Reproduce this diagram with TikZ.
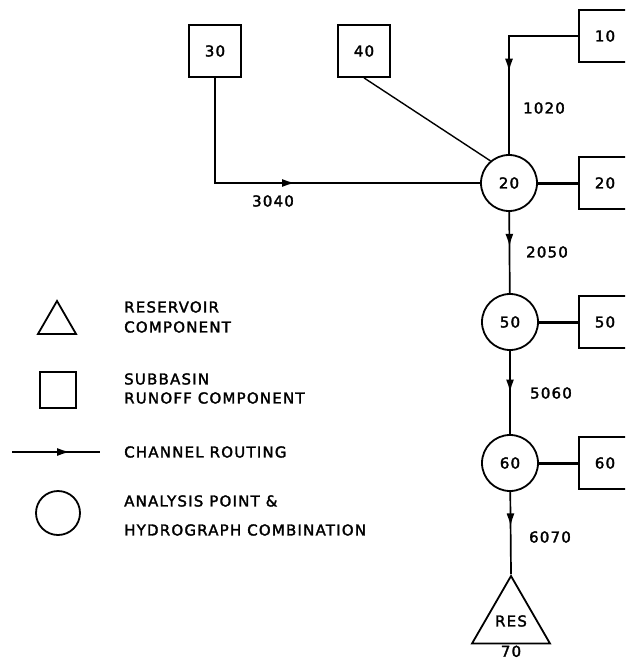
\documentclass[tikz,border=0pt]{standalone}
\usepackage{fontspec}
\setmainfont[LetterSpace=8,FakeBold=2]{DejaVu Sans}
\usetikzlibrary{arrows.meta,decorations.markings,shapes.geometric}

\tikzset{
  sub/.style={draw,line width=1.8pt,minimum size=52pt,inner sep=0pt},
  cpt/.style={draw,circle,line width=1.8pt,minimum size=56pt,inner sep=0pt},
  res/.style={draw,regular polygon,regular polygon sides=3,line width=1.8pt,inner sep=0pt},
  link/.style={line width=3pt},
  channel/.style={line width=1.7pt,postaction={decorate},
    decoration={markings,mark=at position #1 with {\arrow{Latex[length=13pt,width=8pt]}}}},
  txt/.style={inner sep=0pt,anchor=west}
}

\begin{document}
\begin{tikzpicture}[x=1pt,y=-1pt,font=\fontsize{15}{17}\selectfont]
  \useasboundingbox (0,0) rectangle (625,663);
  \clip (0,0) rectangle (625,663);
  % subbasins
  \node[sub] (s30) at (215,51) {30};
  \node[sub] (s40) at (364,51) {40};
  \node[sub] (s10) at (605,36) {10};
  \node[sub] (s20) at (605,183) {20};
  \node[sub] (s50) at (605,322) {50};
  \node[sub] (s60) at (605,463) {60};
  % analysis points
  \node[cpt] (c20) at (509,183) {20};
  \node[cpt] (c50) at (510,322) {50};
  \node[cpt] (c60) at (510,463) {60};
  \node[res,minimum size=67pt,label={[inner sep=1pt]below:70}] (r70) at (511,621) {\raisebox{-6pt}{RES}};
  % routing
  \draw[channel=0.5] (s30.south) |- (c20.west);
  \draw[line width=1.4pt] (s40.south) -- (c20.130);
  \draw[channel=0.56] (s10.west) -| (c20.north);
  \draw[link] (c20) -- (s20);
  \draw[link] (c50) -- (s50);
  \draw[link] (c60) -- (s60);
  \draw[channel=0.43] (c20) -- (c50);
  \draw[channel=0.5] (c50) -- (c60);
  \draw[channel=0.42] (c60) -- (r70.corner 1);
  \node (n1020) at (544,108) {1020};
  \node (n3040) at (273,201) {3040};
  \node (n2050) at (547,252) {2050};
  \node (n5060) at (551,393) {5060};
  \node (n6070) at (550,537) {6070};
  % legend
  \node[res,minimum size=44pt] (lres) at (57,323) {};
  \node[sub,minimum size=36pt] (lsub) at (58,390) {};
  \coordinate (la) at (12,452);
  \coordinate (lb) at (100,452);
  \draw[channel=0.66] (la) -- (lb);
  \node[cpt,minimum size=44pt] (lcpt) at (58,513) {};
  \node[txt] (t1) at (124,307) {RESERVOIR};
  \node[txt] (t2) at (124,327) {COMPONENT};
  \node[txt] (t3) at (124,379) {SUBBASIN};
  \node[txt] (t4) at (124,398) {RUNOFF COMPONENT};
  \node[txt] (t5) at (124,452) {CHANNEL ROUTING};
  \node[txt] (t6) at (124,501) {ANALYSIS POINT \&};
  \node[txt] (t7) at (124,530) {HYDROGRAPH COMBINATION};
\end{tikzpicture}
\end{document}
